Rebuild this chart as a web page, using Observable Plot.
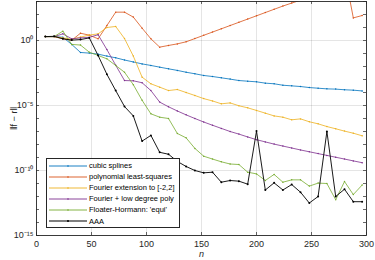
<!DOCTYPE html>
<html>
<head>
<meta charset="utf-8">
<script src="https://cdn.jsdelivr.net/npm/d3@7"></script>
<script src="https://cdn.jsdelivr.net/npm/@observablehq/plot@0.6"></script>
<style>
  html, body { margin: 0; padding: 0; background: #fff; }
  #wrap { position: relative; width: 375px; height: 260px; font-family: "Liberation Sans", Arial, sans-serif; }
  #legend { position: absolute; left: 46px; top: 158px; width: 134px; height: 70px; box-sizing: border-box;
    border: 1px solid #262626; background: #fff; padding-top: 1px; }
  #legend .row { height: 11.1px; display: flex; align-items: center; font-size: 7.5px; color: #000; white-space: nowrap; }
  #legend svg { flex: none; margin-left: 2px; margin-right: 2px; }
  [aria-label="x-axis label"] text { font-style: italic; }
</style>
</head>
<body>
<div id="wrap"><div id="chart"></div><div id="legend"></div></div>
<script>
// ---- data (log10 of ||f - r||) ----
const nValues = [8,16,24,32,40,48,56,64,72,80,88,96,104,112,120,128,136,144,152,160,168,176,184,192,200,208,216,224,232,240,248,256,264,272,280,288,296];
const seriesNames = ["cubic splines","polynomial least-squares","Fourier extension to [-2,2]","Fourier + low degree poly","Floater-Hormann: 'equi'","AAA"];
const seriesColors = ["#0072BD","#D95319","#EDB120","#7E2F8E","#77AC30","#000000"];
const splinesLog = [0.3,0.3,0.25,-0.3,-0.92,-0.97,-1.05,-1.2,-1.33,-1.5,-1.65,-1.8,-1.92,-2.05,-2.18,-2.3,-2.44,-2.56,-2.69,-2.77,-2.87,-2.97,-3.08,-3.13,-3.18,-3.28,-3.33,-3.44,-3.49,-3.54,-3.62,-3.67,-3.72,-3.74,-3.79,-3.82,-3.88];
const polyLsqLog = [0.3,0.3,0.13,0.02,0.56,0.41,0.13,1.15,2.18,2.18,1.8,0.95,0.13,-0.51,-0.38,-0.26,-0.1,0.15,0.4,0.65,0.9,1.15,1.4,1.65,1.9,2.15,2.4,2.65,2.88,3.1,3.35,3.6,3.85,4.2,5.3,1.74,1.92];
const fourierExtLog = [0.3,0.3,0.2,0.1,0.26,0.42,0.51,1.0,1.08,0.15,-1.2,-2.82,-3.33,-3.59,-3.85,-3.77,-4.0,-4.23,-4.47,-4.65,-4.87,-4.8,-5.02,-5.18,-5.38,-5.59,-5.8,-5.9,-6.1,-6.03,-6.25,-6.41,-6.62,-6.79,-6.97,-7.13,-7.33];
const fourierPolyLog = [0.3,0.3,0.51,0.13,0.2,0.25,0.44,-0.7,-1.9,-3.08,-3.1,-3.25,-3.85,-4.74,-5.1,-5.42,-5.72,-6.0,-6.27,-6.52,-6.76,-7.0,-7.2,-7.42,-7.63,-7.8,-7.97,-8.12,-8.27,-8.42,-8.56,-8.7,-8.84,-8.98,-9.12,-9.26,-9.4];
const floaterLog = [0.3,0.3,0.72,-0.3,-0.35,-0.9,-1.15,-1.41,-1.92,-2.44,-3.4,-4.6,-5.64,-5.9,-6.0,-7.15,-7.49,-8.3,-8.9,-9.12,-9.33,-9.5,-9.54,-10.13,-10.26,-10.77,-10.3,-10.9,-10.72,-10.72,-11.2,-10.97,-11.0,-12.25,-10.85,-11.85,-11.12];
const aaaLog = [0.3,0.32,0.13,0.03,0.07,0.2,-1.15,-2.6,-3.85,-5.08,-5.8,-7.74,-7.3,-8.6,-8.75,-9.3,-9.69,-10.0,-10.18,-10.13,-10.9,-10.77,-10.82,-11.05,-6.97,-11.5,-10.95,-11.5,-11.08,-11.67,-12.5,-12.0,-7.0,-12.0,-11.44,-12.4,-12.4];
const xTicks = [0,50,100,150,200,250,300];
const yTicks = [1e-15,1e-14,1e-13,1e-12,1e-11,1e-10,1e-9,1e-8,1e-7,1e-6,1e-5,1e-4,1e-3,1e-2,1e-1,1e0,1e1,1e2,1e3];
const yLabelTicks = [1e-15,1e-10,1e-5,1e0];
const yGrid = [1e-10,1e-5,1e0];
const xGrid = [50,100,150,200,250];

const allLogs = [splinesLog, polyLsqLog, fourierExtLog, fourierPolyLog, floaterLog, aaaLog];
const tables = allLogs.map(arr => nValues.map((n, i) => ({n, v: Math.pow(10, arr[i])})));

const W = 375, H = 260, mL = 36, mR = 9, mT = 1, mB = 25;
const plotW = W - mL - mR, plotH = H - mT - mB;
const supMap = {"0":"⁰","1":"¹","2":"²","3":"³","4":"⁴","5":"⁵","6":"⁶","7":"⁷","8":"⁸","9":"⁹","-":"⁻"};
const supFmt = d => "10" + String(Math.round(Math.log10(d))).split("").map(c => supMap[c]).join("");

const lineMarks = tables.flatMap((t, i) => [
  Plot.line(t, {x: "n", y: "v", stroke: seriesColors[i], strokeWidth: i === 5 ? 0.9 : 0.8, clip: true}),
  Plot.dot(t, {x: "n", y: "v", fill: seriesColors[i], r: i === 5 ? 1.0 : 0.75, clip: true})
]);

const chart = Plot.plot({
  width: W, height: H, marginLeft: mL, marginRight: mR, marginTop: mT, marginBottom: mB,
  style: {fontFamily: "'Liberation Sans', Arial, sans-serif", fontSize: "9px", color: "#262626", background: "#fff", overflow: "visible"},
  x: {domain: [0, 300]},
  y: {type: "log", domain: [1e-15, 1e3]},
  marks: [
    Plot.gridX(xGrid, {stroke: "#000", strokeOpacity: 0.13, strokeWidth: 0.8}),
    Plot.gridY(yGrid, {stroke: "#000", strokeOpacity: 0.13, strokeWidth: 0.8}),
    ...lineMarks,
    Plot.tickX(xTicks, {x: d => d, insetTop: plotH - 3, stroke: "#262626", strokeWidth: 0.7}),
    Plot.tickX(xTicks, {x: d => d, insetBottom: plotH - 3, stroke: "#262626", strokeWidth: 0.7}),
    Plot.tickY(yTicks, {y: d => d, insetRight: plotW - 3, stroke: "#262626", strokeWidth: 0.7}),
    Plot.tickY(yTicks, {y: d => d, insetLeft: plotW - 3, stroke: "#262626", strokeWidth: 0.7}),
    Plot.frame({stroke: "#262626", strokeWidth: 0.9}),
    Plot.axisX(xTicks, {tickSize: 0, tickPadding: 5, fontSize: 9, label: "n", labelAnchor: "center", labelOffset: 21, labelArrow: "none"}),
    Plot.axisY(yLabelTicks, {tickSize: 0, tickPadding: 3, fontSize: 9, tickFormat: supFmt, label: "‖f − r‖", labelAnchor: "center", labelOffset: 26, labelArrow: "none"})
  ]
});
document.getElementById("chart").appendChild(chart);

// legend
const legend = document.getElementById("legend");
seriesNames.forEach((name, i) => {
  const row = document.createElement("div");
  row.className = "row";
  const sw = i === 5 ? 1.1 : 0.9;
  row.innerHTML = `<svg width="38" height="6"><line x1="0" y1="3" x2="38" y2="3" stroke="${seriesColors[i]}" stroke-width="${sw}"/><circle cx="19" cy="3" r="${i === 5 ? 1.0 : 0.8}" fill="${seriesColors[i]}"/></svg><span>${name}</span>`;
  legend.appendChild(row);
});
</script>
</body>
</html>
